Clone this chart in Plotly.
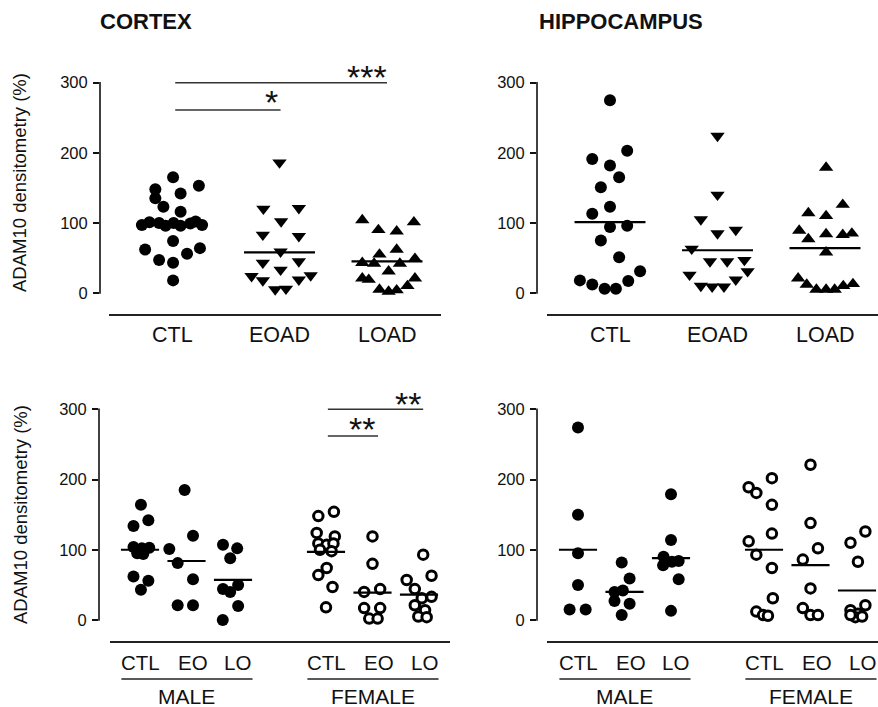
import plotly.graph_objects as go

W, H = 878, 707

# ---------------- DATA ----------------
# Top row: CTL, EOAD, LOAD
cortex_ctl = [165, 148, 135, 153, 142, 123, 116, 97, 101, 100, 96, 100, 96, 99, 102, 97, 74, 62, 64, 47, 56, 43, 18]
cortex_ctl_jit = [0.01, -0.155, -0.155, 0.25, 0.08, -0.08, 0.08, -0.28, -0.21, -0.12, -0.06, 0.015, 0.08, 0.17, 0.22, 0.28, 0.01, -0.25, 0.26, -0.12, 0.14, 0.01, 0.01]
cortex_eoad = [186, 120, 121, 102, 83, 81, 59, 43, 45, 33, 24, 18, 25, 19, 5, 6]
cortex_eoad_jit = [0, -0.15, 0.18, 0.015, -0.155, 0.18, 0.01, -0.155, 0.18, 0.01, -0.26, -0.155, 0.29, 0.18, -0.04, 0.06]
cortex_load = [104, 101, 90, 88, 55, 62, 43, 42, 42, 49, 31, 21, 19, 21, 5, 2, 4, 10]
cortex_load_jit = [-0.23, 0.25, -0.08, 0.09, -0.07, 0.09, -0.23, -0.12, 0.12, 0.26, 0.015, -0.23, -0.17, 0.26, -0.07, 0.015, 0.09, 0.19]
cortex_medians = [98, 58, 45]

hippo_ctl = [275, 203, 191, 182, 165, 151, 123, 113, 94, 96, 75, 51, 31, 18, 12, 6, 6, 17]
hippo_ctl_jit = [0, 0.16, -0.165, 0, 0.085, -0.085, 0, -0.165, 0, 0.16, -0.085, 0.085, 0.28, -0.28, -0.165, -0.05, 0.055, 0.17]
hippo_eoad = [224, 140, 105, 85, 90, 63, 45, 45, 47, 26, 31, 10, 9, 9, 19]
hippo_eoad_jit = [0, 0, -0.155, 0, 0.17, -0.24, -0.07, 0.09, 0.25, -0.26, 0.28, -0.155, -0.05, 0.06, 0.17]
hippo_load = [179, 114, 110, 126, 89, 77, 84, 83, 85, 58, 21, 12, 5, 5, 5, 10, 13]
hippo_load_jit = [0.01, -0.155, 0.01, 0.165, -0.24, -0.155, 0.01, 0.165, 0.25, 0.01, -0.25, -0.17, -0.08, 0.01, 0.09, 0.17, 0.26]
hippo_medians = [101, 61, 64]

top_categories = ["CTL", "EOAD", "LOAD"]

# Bottom row: MALE CTL, EO, LO ; FEMALE CTL, EO, LO
sex_categories = ["CTL", "EO", "LO", "CTL", "EO", "LO"]
sex_positions = [0, 1, 2, 4, 5, 6]
sex_label_positions = [0.02, 1.14, 2.1, 4.02, 5.13, 6.12]
sex_groups = ["MALE", "FEMALE"]

cx_m_ctl = [164, 134, 142, 104, 95, 94, 103, 102, 62, 56, 43]
cx_m_ctl_jit = [0.02, -0.14, 0.18, -0.14, -0.06, 0.07, 0.2, 0.04, -0.14, 0.18, 0.02]
cx_m_eo = [185, 120, 101, 81, 58, 21, 21]
cx_m_eo_jit = [-0.04, 0.14, -0.37, -0.19, 0.14, -0.19, 0.14]
cx_m_lo = [107, 102, 88, 44, 40, 50, 20, 0]
cx_m_lo_jit = [-0.215, 0.09, -0.06, -0.215, -0.06, 0.11, 0.11, -0.22]
cx_f_ctl = [148, 154, 124, 119, 109, 107, 109, 100, 98, 64, 74, 47, 18]
cx_f_ctl_jit = [-0.165, 0.17, -0.2, 0.19, -0.165, 0.015, 0.16, -0.13, 0.12, -0.165, 0.015, 0.14, 0]
cx_f_eo = [119, 80, 40, 44, 17, 17, 2, 2]
cx_f_eo_jit = [0, 0, -0.18, 0.165, -0.18, 0.165, -0.07, 0.11]
cx_f_lo = [93, 57, 63, 44, 31, 33, 21, 14, 5, 4]
cx_f_lo_jit = [0.09, -0.265, 0.27, -0.09, 0.06, 0.27, -0.09, 0.13, -0.015, 0.165]
cx_sex_medians = [100, 84, 57, 97, 39, 36]

hp_m_ctl = [274, 150, 95, 50, 15, 15]
hp_m_ctl_jit = [0, 0, 0, 0, -0.18, 0.165]
hp_m_eo = [82, 59, 40, 42, 27, 23, 7]
hp_m_eo_jit = [-0.06, 0.11, -0.215, -0.035, -0.215, 0.11, -0.06]
hp_m_lo = [179, 114, 90, 83, 84, 78, 58, 13]
hp_m_lo_jit = [0, 0, -0.16, 0.02, 0.165, -0.17, 0.165, 0]
hp_f_ctl = [189, 181, 202, 164, 123, 112, 93, 74, 31, 12, 7, 6]
hp_f_ctl_jit = [-0.33, -0.165, 0.17, 0.17, 0.17, -0.33, -0.165, 0.17, 0.19, -0.165, -0.02, 0.085]
hp_f_eo = [221, 138, 86, 102, 45, 17, 7, 7]
hp_f_eo_jit = [0, 0, -0.165, 0.16, 0, -0.165, 0, 0.16]
hp_f_lo = [126, 110, 83, 14, 9, 21, 4, 5, 7]
hp_f_lo_jit = [0.18, -0.14, 0.02, -0.14, 0.02, 0.18, -0.035, 0.11, -0.14]
hp_sex_medians = [100, 40, 88, 100, 78, 42]

y_ticks = [0, 100, 200, 300]
y_title = "ADAM10 densitometry (%)"

# significance: panel, from category, to category, bar value, label, label x, label value
sig_bars = [("tl", 0.03, 2.0, 300, "***", 1.81, 314),
            ("tl", 0.03, 1.01, 261, "*", 0.93, 278),
            ("bl", 4.04, 6.09, 300, "**", 5.77, 313),
            ("bl", 4.04, 5.12, 262, "**", 4.78, 278)]

# ---------------- LAYOUT GEOMETRY (pixels) ----------------
panels = {
    "tl": dict(L=100, c0=172, unit=107.5, R=446, y0=293, k=0.7011),
    "tr": dict(L=537, c0=610, unit=107.5, R=878, y0=293, k=0.7011),
    "bl": dict(L=99, c0=140, unit=46.5, R=452, y0=620, k=0.7023),
    "br": dict(L=537, c0=578, unit=46.5, R=878, y0=620, k=0.7023),
}
YMIN, YMAX = -40, 340
FONT = "Liberation Sans, Arial"

fig = go.Figure()
axis_ids = {"tl": ("x", "y"), "tr": ("x2", "y2"), "bl": ("x3", "y3"), "br": ("x4", "y4")}

def px2paper_x(p):
    return p / W

def px2paper_y(p):
    return 1 - p / H

def data_px(panel, xv, yv):
    g = panels[panel]
    return g["c0"] + xv * g["unit"], g["y0"] - yv * g["k"]

layout_axes = {}
for key, g in panels.items():
    xa, ya = axis_ids[key]
    xr = [(g["L"] - g["c0"]) / g["unit"], (g["R"] - g["c0"]) / g["unit"]]
    top_px = g["y0"] - YMAX * g["k"]
    bot_px = g["y0"] - YMIN * g["k"]
    xname = "xaxis" if xa == "x" else "xaxis" + xa[1:]
    yname = "yaxis" if ya == "y" else "yaxis" + ya[1:]
    layout_axes[xname] = dict(domain=[px2paper_x(g["L"]), px2paper_x(g["R"])], range=xr,
                              visible=False, anchor=ya, fixedrange=True)
    layout_axes[yname] = dict(domain=[px2paper_y(bot_px), px2paper_y(top_px)], range=[YMIN, YMAX],
                              anchor=xa, showline=False, showgrid=False, zeroline=False,
                              tickvals=y_ticks, ticks="outside", ticklen=6, tickwidth=1.5,
                              tickcolor="#111", tickfont=dict(size=16.5, color="#111", family=FONT),
                              ticklabelstandoff=2, fixedrange=True)

fig.update_layout(**layout_axes)

def add_points(panel, center, vals, jit, symbol, open_=False, size=12):
    xa, ya = axis_ids[panel]
    fig.add_trace(go.Scatter(
        x=[center + j for j in jit], y=vals, xaxis=xa, yaxis=ya, mode="markers",
        cliponaxis=False, showlegend=False, hoverinfo="y",
        marker=dict(symbol=symbol, size=size,
                    color="white" if open_ else "black",
                    line=dict(color="black", width=3 if open_ else 0))))

def add_median(panel, center, val, hw):
    xa, ya = axis_ids[panel]
    fig.add_trace(go.Scatter(x=[center - hw, center + hw], y=[val, val], xaxis=xa, yaxis=ya,
                             mode="lines", line=dict(color="black", width=2.2),
                             showlegend=False, hoverinfo="skip"))

add_points("tl", 0, cortex_ctl, cortex_ctl_jit, "circle")
add_points("tl", 1, cortex_eoad, cortex_eoad_jit, "triangle-down", size=12.5)
add_points("tl", 2, cortex_load, cortex_load_jit, "triangle-up", size=12.5)
for i, m in enumerate(cortex_medians):
    add_median("tl", i, m, 0.33)
add_points("tr", 0, hippo_ctl, hippo_ctl_jit, "circle")
add_points("tr", 1, hippo_eoad, hippo_eoad_jit, "triangle-down", size=12.5)
add_points("tr", 2, hippo_load, hippo_load_jit, "triangle-up", size=12.5)
for i, m in enumerate(hippo_medians):
    add_median("tr", i, m, 0.33)

cx_groups = [(cx_m_ctl, cx_m_ctl_jit), (cx_m_eo, cx_m_eo_jit), (cx_m_lo, cx_m_lo_jit),
             (cx_f_ctl, cx_f_ctl_jit), (cx_f_eo, cx_f_eo_jit), (cx_f_lo, cx_f_lo_jit)]
hp_groups = [(hp_m_ctl, hp_m_ctl_jit), (hp_m_eo, hp_m_eo_jit), (hp_m_lo, hp_m_lo_jit),
             (hp_f_ctl, hp_f_ctl_jit), (hp_f_eo, hp_f_eo_jit), (hp_f_lo, hp_f_lo_jit)]
for panel, groups, meds in (("bl", cx_groups, cx_sex_medians), ("br", hp_groups, hp_sex_medians)):
    for i, ((vals, jit), pos) in enumerate(zip(groups, sex_positions)):
        open_ = i >= 3
        add_points(panel, pos, vals, jit, "circle", open_=open_, size=12 if not open_ else 9.5)
        add_median(panel, pos, meds[i], 0.41)

shapes = []
annots = []
LINE = "#222"

def hline_px(x0, x1, y, width=1.6, color=LINE):
    shapes.append(dict(type="line", xref="paper", yref="paper",
                       x0=px2paper_x(x0), x1=px2paper_x(x1), y0=px2paper_y(y), y1=px2paper_y(y),
                       line=dict(color=color, width=width)))

def text_px(x, y, text, size, xanchor="center", yanchor="middle", angle=0):
    annots.append(dict(xref="paper", yref="paper", x=px2paper_x(x), y=px2paper_y(y), text=text,
                       showarrow=False, xanchor=xanchor, yanchor=yanchor, textangle=angle,
                       font=dict(size=size, color="#111", family=FONT)))

# vertical axis lines (0..300)
for key, g in panels.items():
    shapes.append(dict(type="line", xref="paper", yref="paper",
                       x0=px2paper_x(g["L"]), x1=px2paper_x(g["L"]),
                       y0=px2paper_y(g["y0"] + 0.7), y1=px2paper_y(g["y0"] - 300 * g["k"] - 0.7),
                       line=dict(color="#111", width=1.6)))

# baselines
for key, x0, x1, yb in (("tl", 109, 441, 315), ("tr", 547, 878, 315),
                        ("bl", 110, 450, 642), ("br", 547, 878, 642)):
    hline_px(x0, x1, yb, width=1.8)

# category labels top
for key in ("tl", "tr"):
    for i, c in enumerate(top_categories):
        xp, _ = data_px(key, i, 0)
        text_px(xp, 335, c, 21.5)
# category labels bottom + group underlines
for key in ("bl", "br"):
    for c, pos in zip(sex_categories, sex_label_positions):
        xp, _ = data_px(key, pos, 0)
        text_px(xp, 662, c, 20.5)
    for gi, gname in enumerate(sex_groups):
        start = sex_positions[gi * 3]
        xa_, _ = data_px(key, start - 0.4, 0)
        xb_, _ = data_px(key, start + 2.42, 0)
        hline_px(xa_, xb_, 679, width=1.6)
        text_px((xa_ + xb_) / 2, 696, gname, 21)

# significance bars
for key, a, b, yv, txt, tx, tv in sig_bars:
    xa_, yp = data_px(key, a, yv)
    xb_, _ = data_px(key, b, yv)
    hline_px(xa_, xb_, yp, width=1.5, color="#333")
    xt, yt = data_px(key, tx, tv)
    text_px(xt, yt + 4, txt, 34)

# titles
text_px(98, 22, "<b>CORTEX</b>", 22, xanchor="left")
text_px(537, 22, "<b>HIPPOCAMPUS</b>", 22, xanchor="left")
# y titles
text_px(20, 183, y_title, 18.5, angle=-90)
text_px(20, 515, y_title, 18.5, angle=-90)

fig.update_layout(width=W, height=H, margin=dict(l=0, r=0, t=0, b=0),
                  paper_bgcolor="white", plot_bgcolor="rgba(0,0,0,0)",
                  shapes=shapes, annotations=annots, showlegend=False)

fig.write_html("out.html")
